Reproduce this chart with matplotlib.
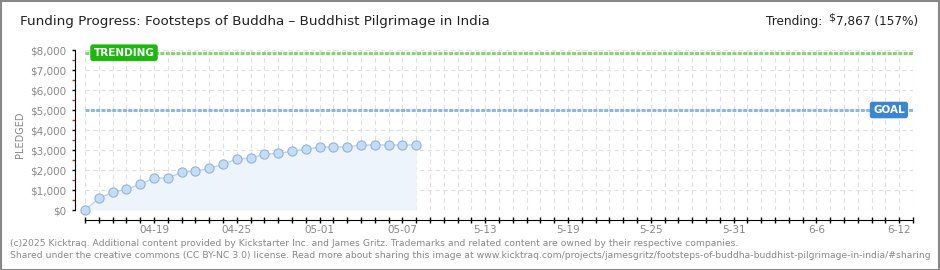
import matplotlib
matplotlib.use("Agg")
import matplotlib.pyplot as plt
import matplotlib.dates as mdates
from matplotlib import font_manager
from matplotlib.patches import Rectangle
import numpy as np
import pandas as pd

# pick a narrow font if there is one
def have(fam):
    try:
        font_manager.findfont(fam, fallback_to_default=False)
        return True
    except Exception:
        return False

NARROW = "Liberation Sans Narrow" if have("Liberation Sans Narrow") else "DejaVu Sans"
plt.rcParams["font.family"] = [NARROW, "DejaVu Sans"]

# data
dates = ["2025-04-14", "2025-04-15", "2025-04-16", "2025-04-17", "2025-04-18",
         "2025-04-19", "2025-04-20", "2025-04-21", "2025-04-22", "2025-04-23",
         "2025-04-24", "2025-04-25", "2025-04-26", "2025-04-27", "2025-04-28",
         "2025-04-29", "2025-04-30", "2025-05-01", "2025-05-02", "2025-05-03",
         "2025-05-04", "2025-05-05", "2025-05-06", "2025-05-07", "2025-05-08"]
pledged = [0, 583, 883, 1033, 1283, 1600, 1600, 1883, 1933, 2083,
           2283, 2550, 2600, 2783, 2833, 2933, 3033, 3150, 3150, 3150,
           3250, 3250, 3250, 3250, 3250]
goal = 5000
trending = 7867
tick_dates = ["2025-04-19", "2025-04-25", "2025-05-01", "2025-05-07", "2025-05-13",
              "2025-05-19", "2025-05-25", "2025-05-31", "2025-06-06", "2025-06-12"]
tick_labels = ["04-19", "04-25", "05-01", "05-07", "5-13",
               "5-19", "5-25", "5-31", "6-6", "6-12"]
y_ticks = [0, 1000, 2000, 3000, 4000, 5000, 6000, 7000, 8000]
y_labels = ["$0", "$1,000", "$2,000", "$3,000", "$4,000", "$5,000", "$6,000", "$7,000", "$8,000"]
x_start, x_end = "2025-04-14", "2025-06-13"

W, H = 940, 270
fig = plt.figure(figsize=(W / 100, H / 100), dpi=100)
fig.patch.set_facecolor("white")

# axes in pixel coords: x 85..913, y 50..210 (from top)
ax = fig.add_axes([85 / W, (H - 210) / H, 828 / W, 160 / H])
ax.set_facecolor("white")

x = mdates.date2num(pd.to_datetime(dates))
x0, x1 = mdates.date2num(pd.to_datetime([x_start, x_end]))
ax.set_xlim(x0, x1)
ax.set_ylim(0, 8000)

# grid
for d in np.arange(x0, x1 + 0.5, 1):
    ax.axvline(d, color="#e0e0e0", lw=0.8, ls=(0, (4, 3)), zorder=0)
for v in y_ticks:
    ax.axhline(v, color="#e0e0e0", lw=0.8, ls=(0, (4, 3)), zorder=0)

# goal / trending lines
ax.axhline(goal, color="#8fb6e2", lw=2.2, ls=(0, (1.3, 0.45)), zorder=1)
ax.axhline(trending, color="#86d478", lw=2.2, ls=(0, (1.3, 0.45)), zorder=1)

# progress
ax.fill_between(x, 0, pledged, color="#edf4fc", zorder=2, lw=0)
ax.plot(x, pledged, color="#b8d4f2", lw=1, zorder=3)
ax.plot(x, pledged, "o", ms=6.6, mfc="#c4dcf6", mec="#92b4da", mew=0.8,
        zorder=4, clip_on=False)

# label boxes
ax.text(x0 + 0.62, trending, "TRENDING", ha="left", va="center", color="white",
        fontsize=7.5, fontweight="bold", zorder=6,
        bbox=dict(boxstyle="round,pad=0.25,rounding_size=0.2", fc="#1db80d", ec="#1db80d"))
ax.text(x0 + 59.4, goal, "GOAL", ha="right", va="center", color="white",
        fontsize=7.5, fontweight="bold", zorder=6,
        bbox=dict(boxstyle="round,pad=0.25,rounding_size=0.2", fc="#3a86d4", ec="#3a86d4"))

# spines
for s in ["top", "right"]:
    ax.spines[s].set_visible(False)
ax.spines["left"].set_position(("outward", 7.2))
ax.spines["bottom"].set_position(("outward", 7.2))
ax.spines["left"].set_color("black")
ax.spines["bottom"].set_color("black")

# y ticks
ax.set_yticks(y_ticks)
ax.set_yticklabels(y_labels)
ax.set_yticks(np.arange(500, 8000, 1000), minor=True)
ax.tick_params(axis="y", which="major", length=2.5, width=1, color="black",
               labelsize=7.5, labelcolor="#888888", pad=4)
ax.tick_params(axis="y", which="minor", length=2.5, width=1, color="#e02020")

# x ticks: every day, labels every 6 days
ax.set_xticks(np.arange(x0, x1 + 0.5, 1), minor=True)
ax.set_xticks(mdates.date2num(pd.to_datetime(tick_dates)))
ax.set_xticklabels(tick_labels)
ax.tick_params(axis="x", which="both", direction="inout", length=5, width=1,
               color="black", labelsize=7.5, labelcolor="#888888", pad=1)

ax.text(20 / W, 0.5, "PLEDGED", transform=fig.transFigure, rotation=90,
        ha="center", va="center", fontsize=7, color="#888888")

# titles
fig.canvas.draw()
renderer = fig.canvas.get_renderer()

def fit(t, width_px):
    bb = t.get_window_extent(renderer)
    t.set_fontsize(t.get_fontsize() * width_px / bb.width)

title = fig.text(20 / W, 1 - 22 / H, "Funding Progress: Footsteps of Buddha \u2013 Buddhist Pilgrimage in India",
                 ha="left", va="center", fontsize=12, color="#222222")
fit(title, 465)

rt = fig.text(918 / W, 1 - 22 / H, "7,867 (157%)", ha="right", va="center",
              fontsize=12, color="#222222")
fit(rt, 82)
bb = rt.get_window_extent(renderer)
dl = fig.text((bb.x0 - 1) / W, 1 - 17 / H, "$", ha="right", va="center",
              fontsize=8, color="#222222")
bb2 = dl.get_window_extent(renderer)
fig.text((bb2.x0 - 6) / W, 1 - 22 / H, "Trending:", ha="right", va="center",
         fontsize=rt.get_fontsize(), color="#222222")

f1 = fig.text(10 / W, 1 - 243 / H,
              "(c)2025 Kicktraq. Additional content provided by Kickstarter Inc. and James Gritz. "
              "Trademarks and related content are owned by their respective companies.",
              ha="left", va="center", fontsize=7, color="#888888")
fit(f1, 728)
f2 = fig.text(10 / W, 1 - 255 / H,
              "Shared under the creative commons (CC BY-NC 3.0) license. Read more about sharing this image at "
              "www.kicktraq.com/projects/jamesgritz/footsteps-of-buddha-buddhist-pilgrimage-in-india/#sharing",
              ha="left", va="center", fontsize=7, color="#888888")
fit(f2, 922)

# outer border
fig.patches.append(Rectangle((0.5 / W, 0.5 / H), (W - 1.5) / W, (H - 1.5) / H,
                             transform=fig.transFigure, fill=False, ec="#888888", lw=1.5))

fig.savefig("out.png", dpi=100)
